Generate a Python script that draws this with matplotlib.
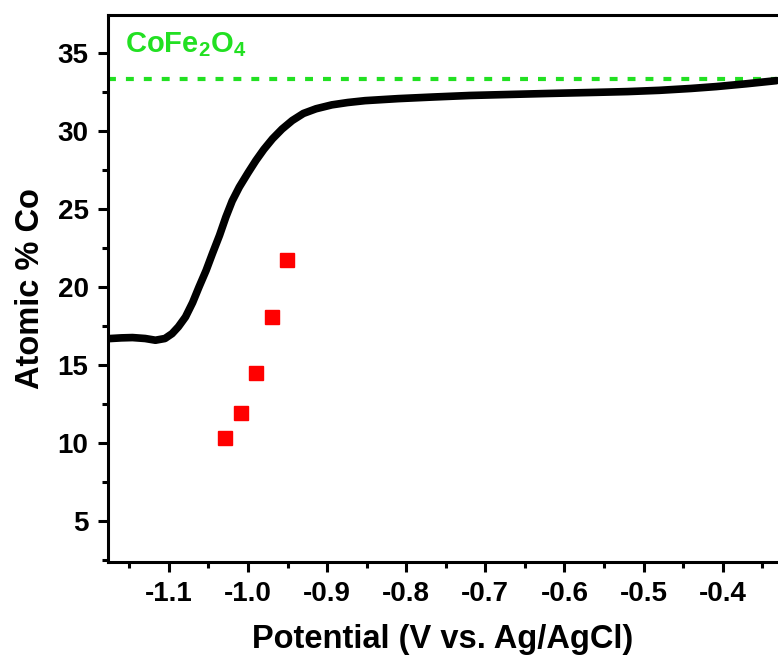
import matplotlib
matplotlib.use("Agg")
from matplotlib import pyplot as plt
from matplotlib.ticker import MultipleLocator

# composition curve
potential = [-1.177, -1.16, -1.146, -1.13, -1.117, -1.105, -1.096, -1.088,
             -1.079, -1.07, -1.062, -1.053, -1.045, -1.036, -1.028, -1.02,
             -1.011, -1.0, -0.99, -0.98, -0.969, -0.957, -0.944, -0.93,
             -0.914, -0.894, -0.874, -0.852, -0.81, -0.767, -0.72, -0.682,
             -0.62, -0.56, -0.52, -0.48, -0.44, -0.408, -0.37, -0.332]
atomic_co = [16.69, 16.74, 16.76, 16.70, 16.59, 16.70, 17.01, 17.45,
             18.08, 19.0, 19.99, 21.05, 22.13, 23.3, 24.47, 25.5,
             26.39, 27.3, 28.09, 28.8, 29.48, 30.1, 30.65, 31.1,
             31.4, 31.65, 31.8, 31.92, 32.05, 32.15, 32.25, 32.3,
             32.38, 32.45, 32.5, 32.58, 32.7, 32.82, 33.0, 33.2]

# measured points (red squares)
pts_potential = [-1.029, -1.009, -0.990, -0.970, -0.951]
pts_co = [10.32, 11.92, 14.48, 18.06, 21.70]

cofe2o4_level = 33.3

plt.rcParams["font.family"] = ["Liberation Sans", "DejaVu Sans"]
plt.rcParams["font.weight"] = "bold"
plt.rcParams["mathtext.fontset"] = "custom"
plt.rcParams["mathtext.bf"] = "Liberation Sans:bold"
plt.rcParams["mathtext.rm"] = "Liberation Sans:bold"
plt.rcParams["mathtext.default"] = "bf"

fig = plt.figure(figsize=(7.78, 6.61), dpi=100)
ax = fig.add_axes([0.1388, 0.1498, 0.8612, 0.8275])

ax.axhline(cofe2o4_level, color="#22e022", lw=3, dashes=(1.9, 2.4), zorder=2)
ax.plot(potential, atomic_co, color="black", lw=5.5, solid_capstyle="round",
        solid_joinstyle="round", zorder=3)
ax.plot(pts_potential, pts_co, ls="none", marker="s", ms=10.5,
        color="#ff0000", mec="#ff0000", zorder=4)

ax.text(-1.155, 35.5, r"CoFe$_2$O$_4$", color="#22e022", fontsize=21,
        fontweight="bold", va="center", ha="left")

ax.set_xlim(-1.177, -0.33)
ax.set_ylim(2.4, 37.4)
ax.xaxis.set_minor_locator(MultipleLocator(0.05))
ax.yaxis.set_minor_locator(MultipleLocator(2.5))
ax.set_xticks([-1.1, -1.0, -0.9, -0.8, -0.7, -0.6, -0.5, -0.4])
ax.set_xticklabels(["-1.1", "-1.0", "-0.9", "-0.8", "-0.7", "-0.6", "-0.5", "-0.4"])
ax.set_yticks([5, 10, 15, 20, 25, 30, 35])

ax.spines["right"].set_visible(False)
for s in ("left", "bottom", "top"):
    ax.spines[s].set_linewidth(2.2)
ax.tick_params(which="major", direction="out", length=7, width=2.2,
               labelsize=20, pad=7, top=False, right=False)
ax.tick_params(which="minor", direction="out", length=4, width=2.2,
               top=False, right=False)

ax.set_xlabel("Potential (V vs. Ag/AgCl)", fontsize=23.5, fontweight="bold",
              labelpad=12)
ax.set_ylabel("Atomic % Co", fontsize=23.5, fontweight="bold", labelpad=8)

fig.savefig("out.png", dpi=100)
